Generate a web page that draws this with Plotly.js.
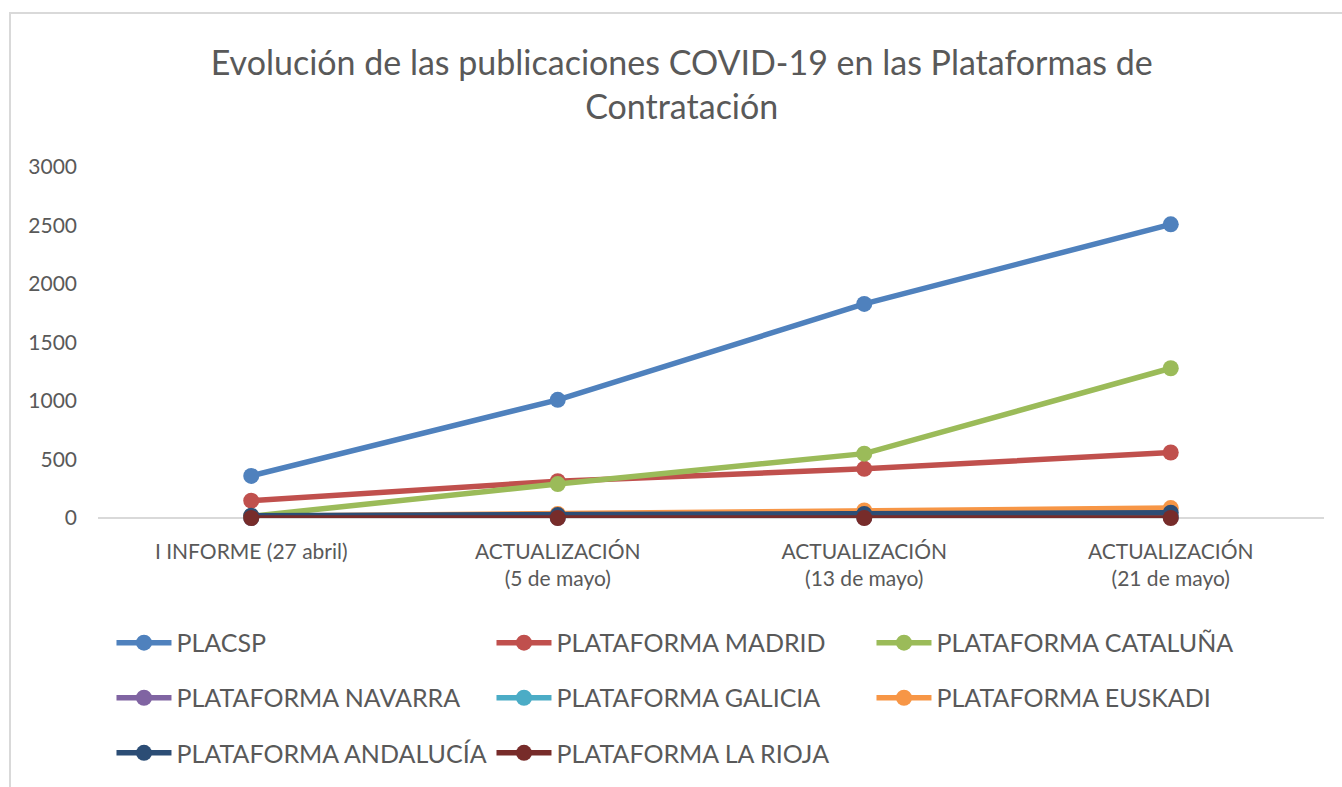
<!DOCTYPE html>
<html>
<head>
<meta charset="utf-8">
<script src="https://cdn.plot.ly/plotly-3.0.1.min.js"></script>
<style>
  html, body { margin: 0; padding: 0; background: #fff; }
  #chart { width: 1342px; height: 787px; }
  #frame { position: absolute; left: 9px; top: 12px; width: 1340px; height: 780px;
           border-left: 2px solid #d9d9d9; border-top: 2px solid #d9d9d9; pointer-events: none; }
</style>
</head>
<body>
<div id="chart"></div>
<div id="frame"></div>
<script>
const categories = ["I INFORME (27 abril)", "ACTUALIZACIÓN<br>(5 de mayo)", "ACTUALIZACIÓN<br>(13 de mayo)", "ACTUALIZACIÓN<br>(21 de mayo)"];

const seriesNames = ["PLACSP", "PLATAFORMA MADRID", "PLATAFORMA CATALUÑA", "PLATAFORMA NAVARRA",
                     "PLATAFORMA GALICIA", "PLATAFORMA EUSKADI", "PLATAFORMA ANDALUCÍA", "PLATAFORMA LA RIOJA"];

const placsp    = [360, 1010, 1830, 2510];
const madrid    = [148, 315, 420, 560];
const cataluna  = [15, 290, 550, 1280];
const navarra   = [0, 2, 4, 6];
const galicia   = [2, 5, 8, 10];
const euskadi   = [15, 35, 65, 85];
const andalucia = [20, 25, 35, 45];
const larioja   = [0, 0, 0, 0];

const seriesValues = [placsp, madrid, cataluna, navarra, galicia, euskadi, andalucia, larioja];
const colors = ["#4F81BD", "#C0504D", "#9BBB59", "#8064A2", "#4BACC6", "#F79646", "#2C4D75", "#772C2A"];
const legendIds = ["legend", "legend", "legend", "legend2", "legend2", "legend2", "legend3", "legend3"];

const traces = seriesNames.map((name, i) => ({
  type: "scatter",
  mode: "lines+markers",
  name: name,
  x: categories,
  y: seriesValues[i],
  line: { color: colors[i], width: 5.5 },
  marker: { color: colors[i], size: 16 },
  cliponaxis: false,
  legend: legendIds[i],
  hoverinfo: "x+y+name"
}));

const legendBase = {
  orientation: "h",
  xanchor: "left",
  yanchor: "middle",
  x: 0.011,
  entrywidth: 310,
  entrywidthmode: "pixels",
  itemwidth: 55,
  font: { family: "Lato, 'Open Sans', sans-serif", size: 25, color: "#595959" },
  bgcolor: "rgba(0,0,0,0)",
  traceorder: "normal"
};

const layout = {
  width: 1342,
  height: 787,
  paper_bgcolor: "#ffffff",
  plot_bgcolor: "#ffffff",
  margin: { l: 98, r: 18, t: 167, b: 268 },
  font: { family: "Lato, 'Open Sans', sans-serif", color: "#595959" },
  title: {
    text: "Evolución de las publicaciones COVID-19 en las Plataformas de<br>Contratación",
    font: { family: "Lato, 'Open Sans', sans-serif", size: 34, color: "#595959" },
    x: 0.508,
    xref: "container",
    xanchor: "center",
    y: 0.905,
    yref: "container",
    yanchor: "top"
  },
  xaxis: {
    type: "category",
    range: [-0.5, 3.5],
    showgrid: false,
    showline: false,
    zeroline: false,
    ticks: "",
    ticklabelstandoff: 19,
    tickfont: { size: 21, color: "#595959" },
    fixedrange: true
  },
  yaxis: {
    range: [0, 3000],
    tickvals: [0, 500, 1000, 1500, 2000, 2500, 3000],
    showgrid: false,
    showline: false,
    zeroline: true,
    zerolinecolor: "#d9d9d9",
    zerolinewidth: 2,
    ticks: "",
    ticklabelstandoff: 20,
    tickfont: { size: 21, color: "#595959" },
    fixedrange: true
  },
  legend:  Object.assign({}, legendBase, { y: -0.352 }),
  legend2: Object.assign({}, legendBase, { y: -0.5085 }),
  legend3: Object.assign({}, legendBase, { y: -0.665 }),
  showlegend: true
};

Plotly.newPlot("chart", traces, layout, { displayModeBar: false, responsive: false });
</script>
</body>
</html>
